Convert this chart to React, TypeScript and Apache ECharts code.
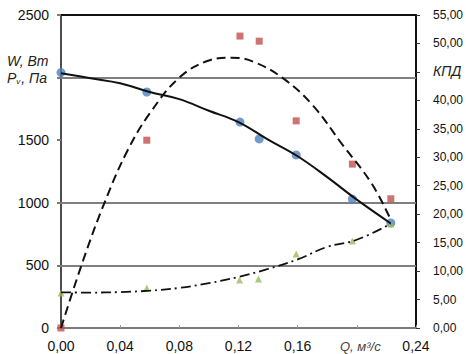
import React, { useEffect, useRef } from "react";
import * as echarts from "echarts";

// Measured points
const qPower = [0, 0.058, 0.121, 0.134, 0.159, 0.197, 0.223];
const powerPts = [2040, 1885, 1645, 1510, 1382, 1030, 839];

const qEff = [0, 0.058, 0.121, 0.134, 0.159, 0.197, 0.223];
const effPts = [0, 33.0, 51.3, 50.4, 36.4, 28.8, 22.7];

const qPress = [0, 0.058, 0.1207, 0.1335, 0.159, 0.197, 0.223];
const pressPts = [280, 320, 383, 391, 591, 695, 831];

// Trend curves
const qPowerCurve = [0, 0.02, 0.04, 0.06, 0.08, 0.1, 0.12, 0.14, 0.16, 0.18, 0.2, 0.223];
const powerCurve = [2035, 1995, 1955, 1885, 1828, 1735, 1645, 1505, 1372, 1205, 1025, 835];

const qEffCurve = [0, 0.015, 0.03, 0.045, 0.06, 0.08, 0.1, 0.115, 0.13, 0.15, 0.17, 0.19, 0.21, 0.223];
const effCurve = [0, 11.9, 22.4, 31.2, 37.7, 44.0, 47.0, 47.5, 46.8, 43.9, 39.2, 32.3, 25.4, 19.0];

const qPressCurve = [0, 0.02, 0.04, 0.06, 0.08, 0.1, 0.12, 0.14, 0.16, 0.18, 0.2, 0.223];
const pressCurve = [285, 283, 287, 298, 320, 358, 408, 472, 548, 648, 705, 833];

const gridValues = [500, 1000, 2000];

const xTicks = { min: 0, max: 0.24, interval: 0.04 };
const leftTicks = { min: 0, max: 2500, interval: 500 };
const rightTicks = { min: 0, max: 55, interval: 5 };

const FONT = "'Liberation Sans', Arial, sans-serif";

const zip = (xs: number[], ys: number[]) => xs.map((x, i) => [x, ys[i]]);
const comma = (v: number) => v.toFixed(2).replace(".", ",");

export default function App() {
  const ref = useRef<HTMLDivElement>(null);
  useEffect(() => {
    document.body.style.margin = "0";
    const chart = echarts.init(ref.current!, null, { renderer: "svg" });
    chart.setOption({
      animation: false,
      backgroundColor: "#ffffff",
      grid: { left: 61, right: 50, top: 15, bottom: 26 },
      xAxis: [
        {
          type: "value",
          ...xTicks,
          axisLine: { show: true, onZero: false, lineStyle: { color: "#7a7a7a", width: 2 } },
          axisTick: { show: true, length: 3, inside: true, lineStyle: { color: "#9a9a9a" } },
          splitLine: { show: false },
          axisLabel: {
            margin: 11,
            fontFamily: FONT,
            fontSize: 14,
            color: "#111",
            formatter: (v: number) => (Math.abs(v - 0.2) < 1e-9 ? "" : comma(v)),
          },
        },
        {
          type: "value",
          position: "top",
          ...xTicks,
          axisLine: { show: true, onZero: false, lineStyle: { color: "#111", width: 2 } },
          axisTick: { show: false },
          axisLabel: { show: false },
          splitLine: { show: false },
        },
      ],
      yAxis: [
        {
          type: "value",
          ...leftTicks,
          axisLine: { show: true, onZero: false, lineStyle: { color: "#4d4d4d", width: 2 } },
          axisTick: { show: true, length: 4, lineStyle: { color: "#7a7a7a", width: 2 } },
          splitLine: { show: false },
          axisLabel: {
            margin: 12,
            fontFamily: FONT,
            fontSize: 14,
            color: "#111",
            formatter: (v: number) => (v === 2000 ? "" : String(v)),
          },
        },
        {
          type: "value",
          position: "right",
          ...rightTicks,
          axisLine: { show: true, onZero: false, lineStyle: { color: "#111", width: 2 } },
          axisTick: { show: true, length: 4, lineStyle: { color: "#333" } },
          splitLine: { show: false },
          axisLabel: {
            margin: 17,
            fontFamily: FONT,
            fontSize: 12,
            color: "#111",
            formatter: (v: number) => (v === 45 ? "" : comma(v)),
          },
        },
      ],
      series: [
        {
          type: "scatter",
          name: "W",
          data: zip(qPower, powerPts),
          symbol: "circle",
          symbolSize: 9,
          itemStyle: { color: "#4F81BD" },
          clip: false,
          z: 2,
          markLine: {
            silent: true,
            symbol: "none",
            label: { show: false },
            lineStyle: { color: "#7f7f7f", width: 2, type: "solid" },
            data: gridValues.map((v) => ({ yAxis: v })),
            z: 1,
          },
        },
        {
          type: "scatter",
          name: "КПД",
          yAxisIndex: 1,
          data: zip(qEff, effPts),
          symbol: "rect",
          symbolSize: 7,
          itemStyle: { color: "#C0504D" },
          clip: false,
          z: 2,
        },
        {
          type: "scatter",
          name: "Pv",
          data: zip(qPress, pressPts),
          symbol: "triangle",
          symbolSize: 7,
          itemStyle: { color: "#9BBB59" },
          clip: false,
          z: 2,
        },
        {
          type: "line",
          data: zip(qPowerCurve, powerCurve),
          smooth: 0.4,
          symbol: "none",
          lineStyle: { color: "#111", width: 2 },
          z: 3,
        },
        {
          type: "line",
          yAxisIndex: 1,
          data: zip(qEffCurve, effCurve),
          smooth: 0.4,
          symbol: "none",
          lineStyle: { color: "#111", width: 2, type: [9, 5] },
          z: 3,
        },
        {
          type: "line",
          data: zip(qPressCurve, pressCurve),
          smooth: 0.4,
          symbol: "none",
          lineStyle: { color: "#111", width: 1.8, type: [10, 4, 2, 4] },
          z: 3,
        },
      ],
      graphic: [
        {
          type: "rect",
          left: 0,
          top: 60,
          shape: { width: 52, height: 30 },
          style: { fill: "#fff" },
          z: 90,
        },
        {
          type: "text",
          x: 7,
          y: 61,
          z: 100,
          style: {
            text: "W, Вт",
            font: `italic 14px ${FONT}`,
            fill: "#222",
            verticalAlign: "middle",
          },
        },
        {
          type: "text",
          x: 7,
          y: 78,
          z: 100,
          style: {
            text: "{a|P}{s|v}{a|, Па}",
            verticalAlign: "middle",
            rich: {
              a: { fontFamily: FONT, fontStyle: "italic", fontSize: 14, fill: "#222", color: "#222" },
              s: {
                fontFamily: FONT,
                fontStyle: "italic",
                fontSize: 8,
                color: "#222",
                fill: "#222",
                padding: [7, 1, 0, 0],
              },
            },
          },
        },
        {
          type: "text",
          x: 433,
          y: 71,
          z: 100,
          style: {
            text: "КПД",
            font: `italic 14px ${FONT}`,
            fill: "#222",
            verticalAlign: "middle",
          },
        },
        {
          type: "text",
          x: 340,
          y: 346,
          z: 100,
          style: {
            text: "Q, м³/с",
            font: `italic 13px ${FONT}`,
            fill: "#444",
            verticalAlign: "middle",
          },
        },
      ],
    });
    return () => chart.dispose();
  }, []);
  return (
    <div
      ref={ref}
      style={{ position: "fixed", left: 0, top: 0, width: 466, height: 354 }}
    />
  );
}
